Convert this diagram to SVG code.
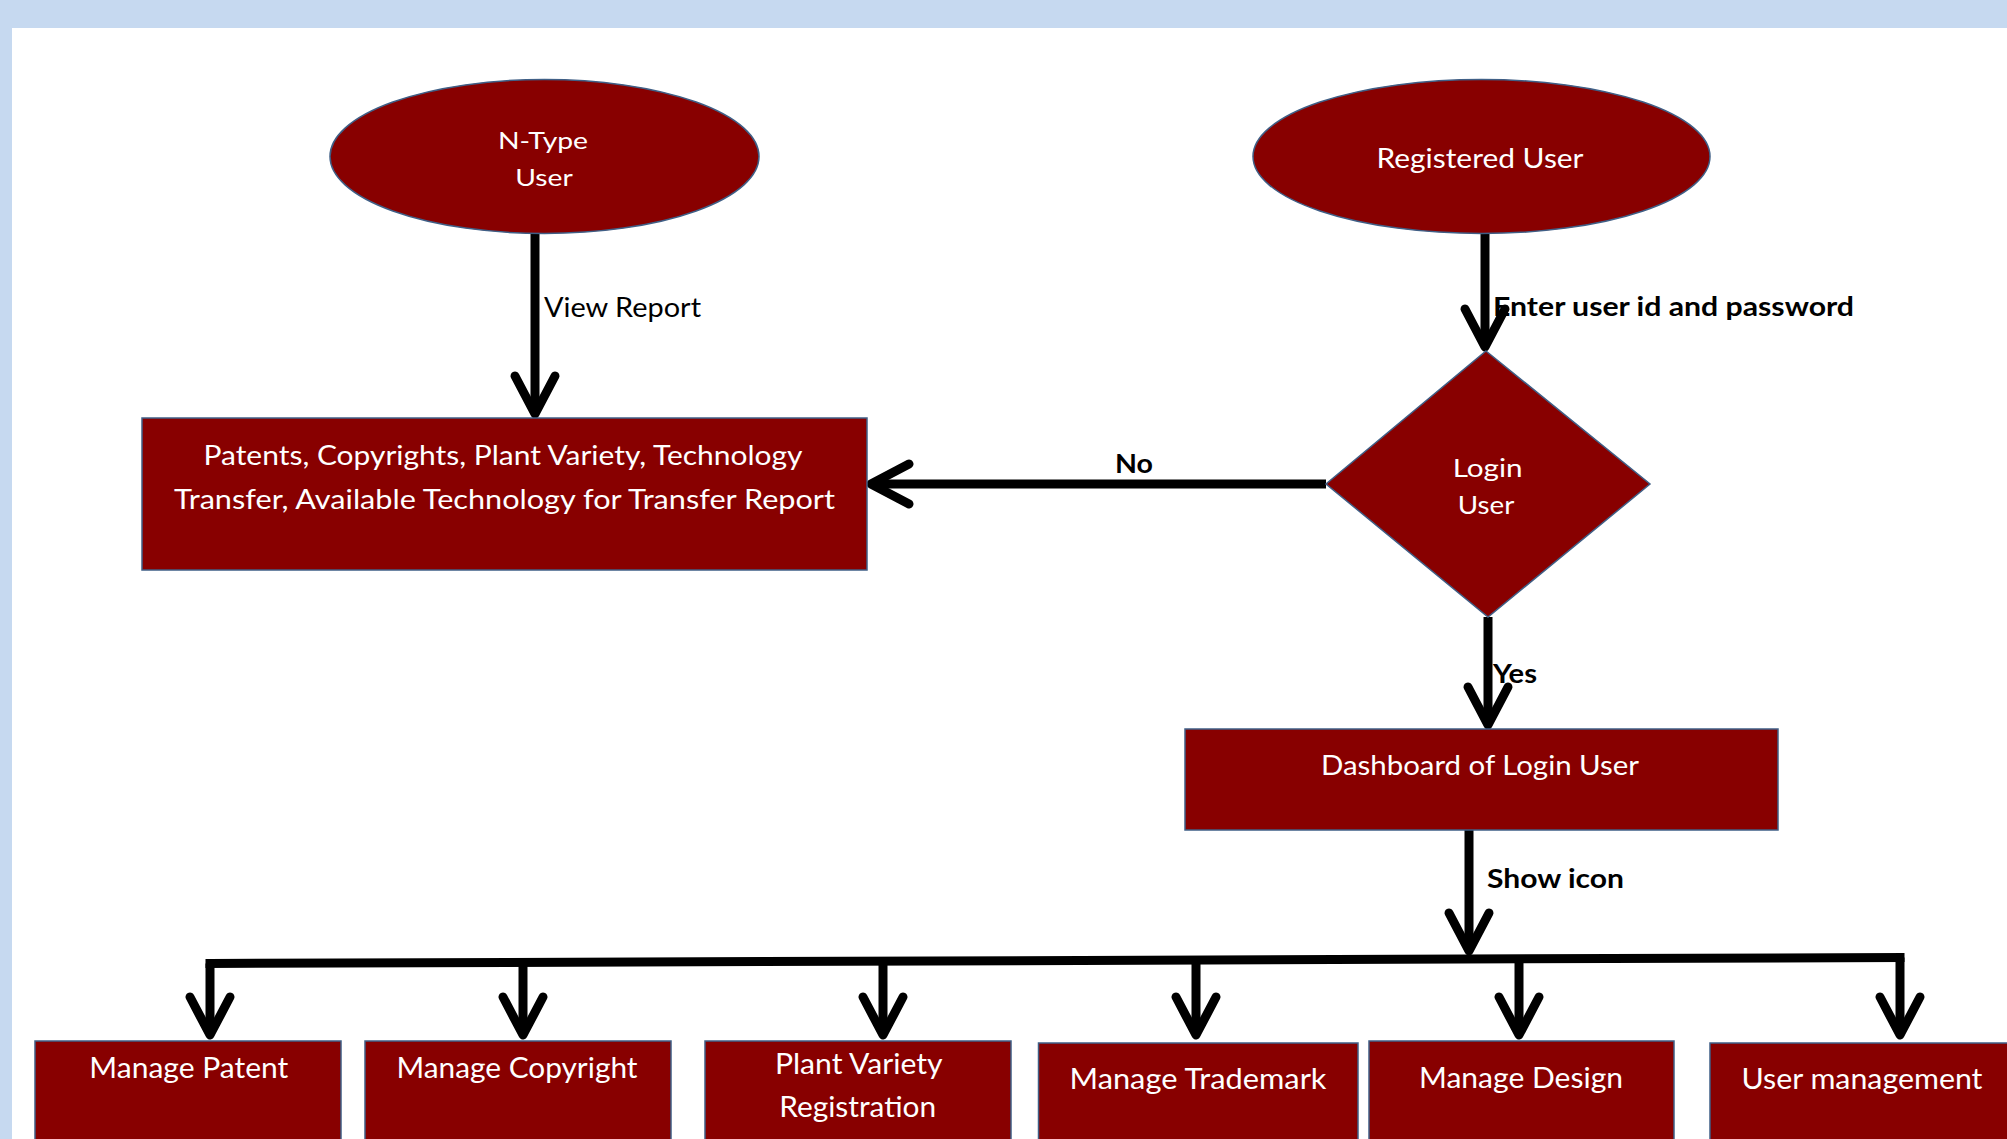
<svg xmlns="http://www.w3.org/2000/svg" width="2007" height="1139" viewBox="0 0 2007 1139">
  <style>
    .node { fill: #880000; stroke: #3F5F86; stroke-width: 1.5; }
    .nt { font-family: Lato, "Liberation Sans", sans-serif; fill: #FFFFFF; text-anchor: middle; }
    .lbl { font-family: Lato, "Liberation Sans", sans-serif; fill: #000000; font-size: 26px; }
    .b { font-weight: bold; }
    .conn { fill: none; stroke: #000000; stroke-width: 9; }
  </style>
  <defs>
    <marker id="arrow" markerUnits="userSpaceOnUse" viewBox="-44 -28 56 56" markerWidth="56" markerHeight="56" refX="0" refY="0" orient="auto" overflow="visible">
      <path d="M -34,-20 L 4,0 L -34,20" fill="none" stroke="#000000" stroke-width="9" stroke-linecap="round" stroke-linejoin="round"/>
    </marker>
  </defs>

  <rect x="0" y="0" width="2007" height="1139" fill="#C6D9F0"/>
  <rect x="12" y="28" width="1995" height="1111" fill="#FFFFFF"/>

  <g id="connectors">
    <path class="conn" d="M535,234 L535,410" marker-end="url(#arrow)"/>
    <path class="conn" d="M1485,234 L1485,343" marker-end="url(#arrow)"/>
    <path class="conn" d="M1326,484 L875,484" marker-end="url(#arrow)"/>
    <path class="conn" d="M1488,617 L1488,721" marker-end="url(#arrow)"/>
    <path class="conn" d="M1469,830 L1469,947" marker-end="url(#arrow)"/>
    <path class="conn" d="M210,963.5 L1900,957.5" stroke-linecap="square"/>
    <path class="conn" d="M210,963.5 L210,1031" marker-end="url(#arrow)"/>
    <path class="conn" d="M523,962.4 L523,1031" marker-end="url(#arrow)"/>
    <path class="conn" d="M883,961.1 L883,1031" marker-end="url(#arrow)"/>
    <path class="conn" d="M1196,960 L1196,1031" marker-end="url(#arrow)"/>
    <path class="conn" d="M1519,958.9 L1519,1031" marker-end="url(#arrow)"/>
    <path class="conn" d="M1900,957.5 L1900,1031" marker-end="url(#arrow)"/>
    <text class="lbl" x="544" y="317" textLength="157" lengthAdjust="spacingAndGlyphs">View Report</text>
    <text class="lbl b" x="1493" y="316" textLength="361" lengthAdjust="spacingAndGlyphs">Enter user id and password</text>
    <text class="lbl b" x="1115" y="472.6" textLength="38" lengthAdjust="spacingAndGlyphs">No</text>
    <text class="lbl b" x="1493" y="682.5" textLength="44" lengthAdjust="spacingAndGlyphs">Yes</text>
    <text class="lbl b" x="1487" y="888" textLength="137" lengthAdjust="spacingAndGlyphs">Show icon</text>
  </g>

  <g id="ntype">
    <ellipse class="node" cx="544.5" cy="156.5" rx="214.5" ry="77"/>
    <text class="nt" x="543" y="148.5" font-size="24" textLength="90" lengthAdjust="spacingAndGlyphs">N-Type</text>
    <text class="nt" x="544" y="186.4" font-size="24" textLength="57.5" lengthAdjust="spacingAndGlyphs">User</text>
  </g>

  <g id="registered">
    <ellipse class="node" cx="1481.5" cy="156.5" rx="228.5" ry="77"/>
    <text class="nt" x="1480" y="168.4" font-size="27" textLength="207" lengthAdjust="spacingAndGlyphs">Registered User</text>
  </g>

  <g id="reports">
    <rect class="node" x="142" y="418" width="725" height="152"/>
    <text class="nt" x="503" y="465" font-size="27" textLength="599" lengthAdjust="spacingAndGlyphs">Patents, Copyrights, Plant Variety, Technology</text>
    <text class="nt" x="504.5" y="509" font-size="27" textLength="661" lengthAdjust="spacingAndGlyphs">Transfer, Available Technology for Transfer Report</text>
  </g>

  <g id="login">
    <polygon class="node" points="1486,351 1650,484 1488,617 1326,484"/>
    <text class="nt" x="1487.7" y="476.5" font-size="25" textLength="70" lengthAdjust="spacingAndGlyphs">Login</text>
    <text class="nt" x="1486" y="514" font-size="25" textLength="56.5" lengthAdjust="spacingAndGlyphs">User</text>
  </g>

  <g id="dashboard">
    <rect class="node" x="1185" y="729" width="593" height="101"/>
    <text class="nt" x="1480" y="774.6" font-size="26" textLength="318" lengthAdjust="spacingAndGlyphs">Dashboard of Login User</text>
  </g>

  <g id="manage-patent">
    <rect class="node" x="35" y="1041" width="306" height="120"/>
    <text class="nt" x="188.8" y="1078" font-size="29" textLength="199" lengthAdjust="spacingAndGlyphs">Manage Patent</text>
  </g>

  <g id="manage-copyright">
    <rect class="node" x="365" y="1041" width="306" height="120"/>
    <text class="nt" x="517" y="1078" font-size="29" textLength="241" lengthAdjust="spacingAndGlyphs">Manage Copyright</text>
  </g>

  <g id="plant-variety">
    <rect class="node" x="705" y="1041" width="306" height="120"/>
    <text class="nt" x="858.8" y="1073.7" font-size="29" textLength="167.7" lengthAdjust="spacingAndGlyphs">Plant Variety</text>
    <text class="nt" x="857.7" y="1117" font-size="29" textLength="157" lengthAdjust="spacingAndGlyphs">Registration</text>
  </g>

  <g id="manage-trademark">
    <rect class="node" x="1038.5" y="1043" width="319.5" height="120"/>
    <text class="nt" x="1198" y="1089" font-size="29" textLength="257" lengthAdjust="spacingAndGlyphs">Manage Trademark</text>
  </g>

  <g id="manage-design">
    <rect class="node" x="1369" y="1041" width="305" height="120"/>
    <text class="nt" x="1521" y="1087.5" font-size="29" textLength="204" lengthAdjust="spacingAndGlyphs">Manage Design</text>
  </g>

  <g id="user-management">
    <rect class="node" x="1710" y="1043" width="320" height="120"/>
    <text class="nt" x="1862" y="1089" font-size="29" textLength="241" lengthAdjust="spacingAndGlyphs">User management</text>
  </g>
</svg>
